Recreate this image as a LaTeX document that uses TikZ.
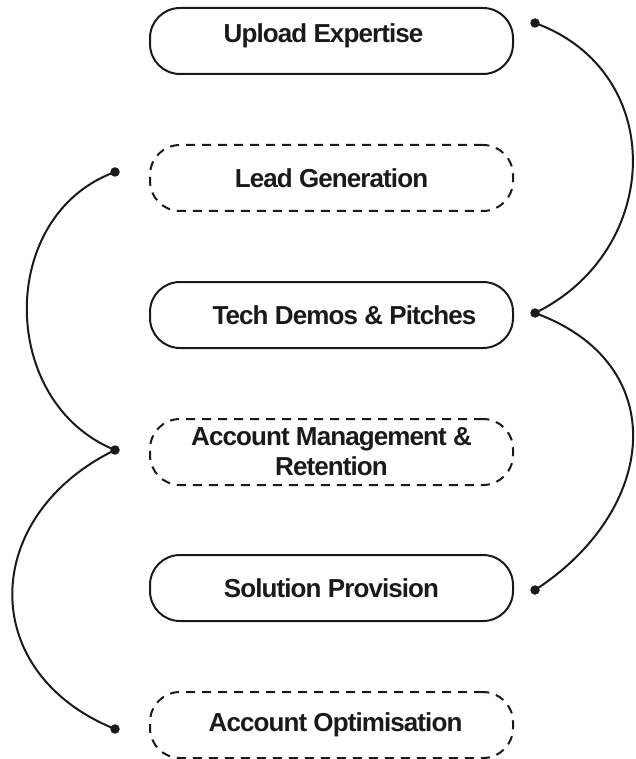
\documentclass[tikz,border=0pt]{standalone}
\usepackage{fontspec}
\setmainfont{Liberation Sans}
\usetikzlibrary{calc}
\definecolor{ink}{HTML}{1A1A1A}
\newfontfamily\boxfont{Liberation Sans}[LetterSpace=-3.5]
\begin{document}
\begin{tikzpicture}[x=1pt,y=-1pt,
  box/.style={rounded corners=30pt, minimum width=363pt, minimum height=66pt,
    line width=2pt, draw=ink, text=ink, inner sep=0pt, align=center,
    font=\boxfont\fontsize{26}{30}\selectfont\bfseries},
  solidbox/.style={box},
  dashbox/.style={box, dash pattern=on 9pt off 7pt},
  dot/.style={circle, fill=ink, inner sep=0pt, minimum size=9.5pt},
  link/.style={line width=2pt, draw=ink}]
\useasboundingbox (0,0) rectangle (636,759);

\node[solidbox] (n1) at (331.5,41) {\raisebox{5pt}[\height][\depth]{Upload Expertise}\hspace*{16pt}};
\node[dashbox]  (n2) at (331.5,178) {Lead Generation};
\node[solidbox] (n3) at (331.5,315) {\hspace*{26pt}Tech Demos \& Pitches};
\node[dashbox]  (n4) at (331.5,452) {Account Management \&\\Retention};
\node[solidbox] (n5) at (331.5,588) {Solution Provision};
\node[dashbox]  (n6) at (331.5,725) {\hspace*{8pt}Account Optimisation};

\node[dot] (p1) at (535,23) {};
\node[dot] (p2) at (115,172) {};
\node[dot] (p3) at (535,313) {};
\node[dot] (p4) at (115,450) {};
\node[dot] (p5) at (535,590) {};
\node[dot] (p6) at (115,729) {};

\draw[link] (p1.center) .. controls ($(p1.center)+(20:142)$) and ($(p3.center)+(-26:142)$) .. (p3.center);
\draw[link] (p3.center) .. controls ($(p3.center)+(20:147)$) and ($(p5.center)+(-33:147)$) .. (p5.center);
\draw[link] (p2.center) .. controls ($(p2.center)+(160:126)$) and ($(p4.center)+(-158:126)$) .. (p4.center);
\draw[link] (p4.center) .. controls ($(p4.center)+(154:150)$) and ($(p6.center)+(-158:150)$) .. (p6.center);
\end{tikzpicture}
\end{document}
